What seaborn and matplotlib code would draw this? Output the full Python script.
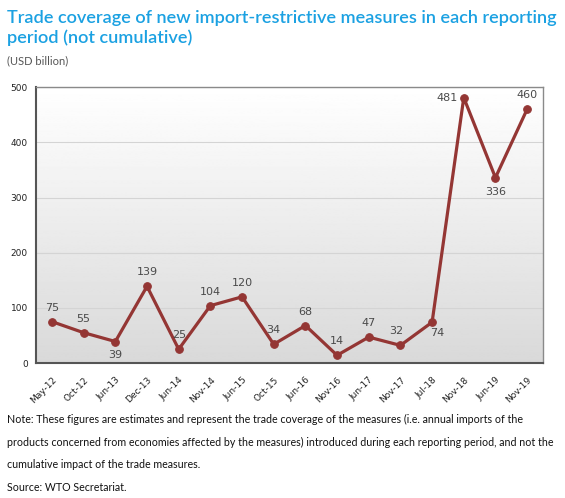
import matplotlib
matplotlib.use("Agg")
import matplotlib.pyplot as plt
import numpy as np
import pandas as pd
import seaborn as sns

# data
periods = ["May-12", "Oct-12", "Jun-13", "Dec-13", "Jun-14", "Nov-14", "Jun-15", "Oct-15",
           "Jun-16", "Nov-16", "Jun-17", "Nov-17", "Jul-18", "Nov-18", "Jun-19", "Nov-19"]
coverage = [75, 55, 39, 139, 25, 104, 120, 34, 68, 14, 47, 32, 74, 481, 336, 460]

df = pd.DataFrame({"period": periods, "value": coverage})

sns.set_style("white")
plt.rcParams["font.family"] = ["DejaVu Sans"]

fig = plt.figure(figsize=(5.65, 4.98), dpi=100)
ax = fig.add_axes([0.064, 0.271, 0.897, 0.554])

# gradient background
grad = np.linspace(1.0, 0.85, 256).reshape(-1, 1)
ax.imshow(grad, extent=[0, 1, 0, 1], transform=ax.transAxes, aspect="auto",
          cmap="gray", vmin=0, vmax=1, zorder=0)

line_col = "#943634"
sns.lineplot(data=df, x="period", y="value", sort=False, color=line_col, lw=2.3,
             marker="o", markersize=5.5, markeredgecolor=line_col, ax=ax, zorder=3)

ax.set_xlim(-0.5, len(periods) - 0.5)
ax.set_ylim(0, 500)
ax.set_yticks(range(0, 501, 100))
ax.yaxis.grid(True, color="#d4d4d4", lw=0.8)
for gl in ax.get_ygridlines():
    gl.set_zorder(1)
ax.set_xlabel("")
ax.set_ylabel("")
ax.tick_params(axis="both", labelsize=6.5, colors="#222222", length=0)
ax.tick_params(axis="x", pad=9)
ax.tick_params(axis="y", pad=6)
ax.set_xticks(range(len(periods)))
ax.set_xticklabels(periods, rotation=45, ha="right", rotation_mode="anchor")
for s in ax.spines.values():
    s.set_color("#8a8a8a")
    s.set_linewidth(1.0)
ax.spines["left"].set_color("#555555")
ax.spines["bottom"].set_color("#555555")
ax.spines["left"].set_linewidth(1.5)
ax.spines["bottom"].set_linewidth(1.5)

# value label placement (offset in points)
offsets = {2: (0, -10), 11: (-3, 10), 12: (4, -8), 13: (-12, 0), 14: (0, -10)}
for i, v in enumerate(coverage):
    dx, dy = offsets.get(i, (0, 10))
    ax.annotate(str(v), (i, v), xytext=(dx, dy), textcoords="offset points",
                ha="center", va="center", fontsize=8, color="#4a4a4a", zorder=4)

fig.text(0.012, 0.979, "Trade coverage of new import-restrictive measures in each reporting\nperiod (not cumulative)",
         ha="left", va="top", fontsize=13.1, color="#1ba1e2", family="Lato", weight="semibold",
         linespacing=1.2)
fig.text(0.012, 0.878, "(USD billion)", ha="left", va="center", fontsize=8, color="#555555",
         family="Lato")

note = ("Note: These figures are estimates and represent the trade coverage of the measures (i.e. annual imports of the\n"
        "products concerned from economies affected by the measures) introduced during each reporting period, and not the\n"
        "cumulative impact of the trade measures.")
fig.text(0.012, 0.112, note, ha="left", va="center", fontsize=7.7, color="#111111",
         family="Lato", linespacing=2.27)
fig.text(0.012, 0.022, "Source: WTO Secretariat.", ha="left", va="center", fontsize=7.7,
         color="#111111", family="Lato")

fig.savefig("out.png", dpi=100)
